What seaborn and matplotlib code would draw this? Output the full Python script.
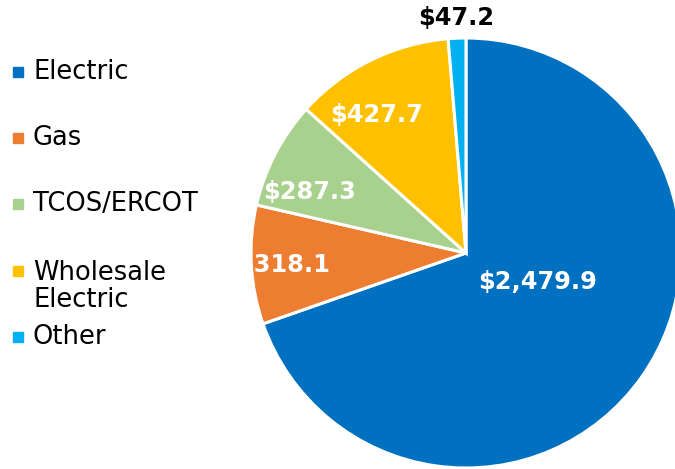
import matplotlib
matplotlib.use("Agg")
import matplotlib.pyplot as plt
from matplotlib.patches import Rectangle
import seaborn as sns

# revenue by segment ($ millions)
segments = ["Electric", "Gas", "TCOS/ERCOT", "Wholesale\nElectric", "Other"]
revenue = [2479.9, 318.1, 287.3, 427.7, 47.2]
value_labels = ["$2,479.9", "$318.1", "$287.3", "$427.7", "$47.2"]

colors = ["#0070C0", "#ED7D31", "#A9D18E", "#FFC000", "#00B0F0"]
label_colors = ["white", "white", "white", "white", "black"]
# label spots in pie-radius units (Excel "best fit" placement)
label_xy = [(0.335, -0.135), (-0.85, -0.056), (-0.726, 0.284), (-0.414, 0.642), (-0.047, 1.093)]
# legend rows, pixels from top
legend_y = [72, 138, 204, 286.5, 337]

sns.set_theme(style="white")
plt.rcParams["font.family"] = ["DejaVu Sans"]

W, H = 675, 469
fig = plt.figure(figsize=(W / 100, H / 100), dpi=100)

cx, cy, r = 466, 253, 215
ax = fig.add_axes([(cx - r) / W, (H - cy - r) / H, 2 * r / W, 2 * r / H])
wedges, _ = ax.pie(
    revenue,
    colors=colors,
    startangle=90,
    counterclock=False,
    wedgeprops=dict(edgecolor="white", linewidth=2.2),
)
ax.set_xlim(-1, 1)
ax.set_ylim(-1, 1)
ax.set_aspect("equal")
ax.axis("off")

for (x, y), lab, c in zip(label_xy, value_labels, label_colors):
    ax.text(x, y, lab, ha="center", va="center", fontsize=17.3,
            fontweight="bold", color=c, clip_on=False)

# legend drawn by hand to get Excel's uneven row spacing
for name, c, y in zip(segments, colors, legend_y):
    nlines = name.count("\n") + 1
    sq_y = y - (nlines - 1) * 15.5
    fig.patches.append(Rectangle((13 / W, 1 - (sq_y + 5) / H), 10 / W, 10 / H,
                                 transform=fig.transFigure, color=c))
    fig.text(33 / W, 1 - y / H, name, ha="left", va="center", fontsize=18.5,
             color="black", linespacing=1.05)

fig.savefig("out.png", dpi=100)
